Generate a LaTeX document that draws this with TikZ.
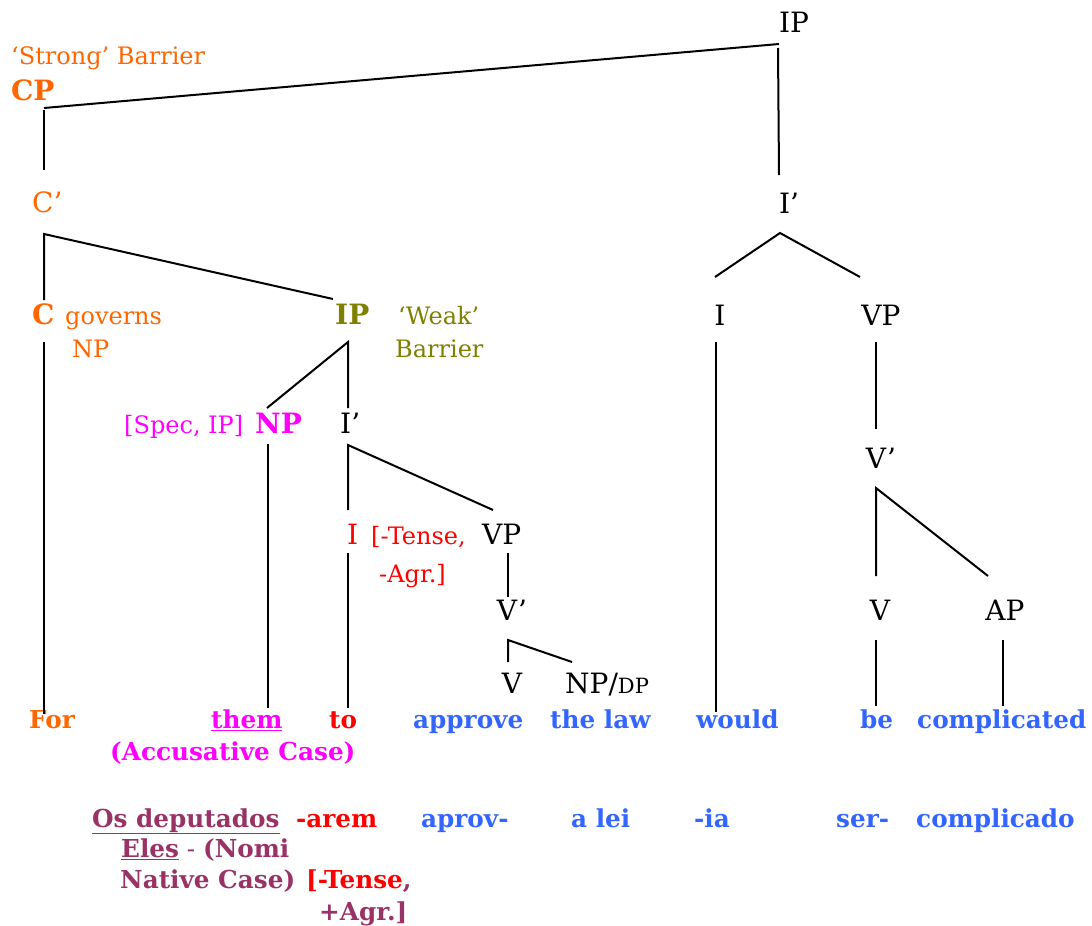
\documentclass[tikz,border=0pt]{standalone}
\usepackage{fontspec}
\setmainfont{DejaVu Serif}
\definecolor{corange}{HTML}{FF6600}
\definecolor{colive}{HTML}{808000}
\definecolor{cmag}{HTML}{FF00FF}
\definecolor{cred}{HTML}{FF0000}
\definecolor{cblue}{HTML}{3366FF}
\definecolor{cplum}{HTML}{993366}
\newcommand\fL{\fontsize{28}{33}\selectfont}
\newcommand\fS{\fontsize{24}{29}\selectfont}
\newcommand\fD{\fontsize{21}{25}\selectfont}
\newcommand\fB{\fontsize{24.7}{29}\selectfont\bfseries}
\begin{document}
\begin{tikzpicture}[x=1pt,y=-1pt,
  lab/.style={inner sep=0pt,anchor=base,font=\fL},
  labw/.style={inner sep=0pt,anchor=base west,font=\fL},
  ann/.style={inner sep=0pt,anchor=base west,font=\fS},
  wrd/.style={inner sep=0pt,anchor=base west,font=\fB},
  edge/.style={draw=black,line width=2pt}]
\path[use as bounding box,fill=white] (0,0) rectangle (1092,926);

% ---- labels ----
\node[lab] (ipTop) at (794,32) {IP};
\node[ann,text=corange] (strong) at (11,64) {‘Strong’ Barrier};
\node[labw,text=corange,font=\fL\bfseries] (cp) at (11,100) {CP};
\node[labw,text=corange] (cbar) at (32,212) {C’};
\node[labw,text=corange,font=\fL\bfseries] (c) at (32,324) {C};
\node[ann,text=corange] (gov) at (65,324) {governs};
\node[ann,text=corange] (govnp) at (72,357) {NP};
\node[labw,text=colive,font=\fL\bfseries] (ipw) at (335,324) {IP};
\node[ann,text=colive] (weak) at (398,324) {‘Weak’};
\node[ann,text=colive] (weak2) at (395,357) {Barrier};
\node[ann,text=cmag] (spec) at (124,433) {[Spec, IP]};
\node[labw,text=cmag,font=\fL\bfseries] (np) at (255,433) {NP};
\node[labw] (ibarL) at (340,433) {I’};
\node[labw,text=cred] (iL) at (347,544) {I};
\node[ann,text=cred] (tense) at (371,544) {[-Tense,};
\node[labw] (vpL) at (482,544) {VP};
\node[ann,text=cred] (agr) at (379,582) {-Agr.]};
\node[lab] (vbarL) at (512,620) {V’};
\node[lab] (vL) at (512,693) {V};
\node[labw] (npdp) at (565,693) {NP/{\fD DP}};
\node[lab] (ibarR) at (789,213) {I’};
\node[lab] (iR) at (720,325) {I};
\node[lab] (vpR) at (881,325) {VP};
\node[lab] (vbarR) at (881,468) {V’};
\node[lab] (vR) at (880,620) {V};
\node[lab] (apR) at (1005,620) {AP};

% ---- words ----
\node[wrd,text=corange] (for) at (29,728) {For};
\node[wrd,text=cmag] (them) at (211,728) {\underline{them}};
\node[wrd,text=cred] (to) at (329,728) {to};
\node[wrd,text=cblue] (approve) at (413,728) {approve};
\node[wrd,text=cblue] (thelaw) at (550,728) {the law};
\node[wrd,text=cblue] (would) at (696,728) {would};
\node[wrd,text=cblue] (be) at (860,728) {be};
\node[wrd,text=cblue] (compl) at (917,728) {complicated};
\node[wrd,text=cmag] (acc) at (110,760) {(Accusative Case)};

\node[wrd,text=cplum] (os) at (92,827) {\underline{Os deputados}};
\node[wrd,text=cred] (arem) at (296,827) {-arem};
\node[wrd,text=cblue] (aprov) at (421,827) {aprov-};
\node[wrd,text=cblue] (alei) at (571,827) {a lei};
\node[wrd,text=cblue] (ia) at (694,827) {-ia};
\node[wrd,text=cblue] (ser) at (836,827) {ser-};
\node[wrd,text=cblue] (compd) at (916,827) {complicado};
\node[wrd,text=cplum] (eles) at (121,857) {\underline{Eles}\mdseries{} - \bfseries(Nomi};
\node[wrd,text=cplum] (nat) at (120,888) {Native Case)};
\node[wrd,text=cred] (tense2) at (306,888) {[-Tense\textcolor{cplum}{,}};
\node[wrd,text=cplum] (agr2) at (319,920) {+Agr.]};

% ---- line end points ----
\coordinate (a1) at (44,108);   \coordinate (a2) at (779,44);
\coordinate (b1) at (778,48);   \coordinate (b2) at (779,175);
\coordinate (c1) at (44,110);   \coordinate (c2) at (44,170);
\coordinate (d0) at (44,234);   \coordinate (d1) at (44,300);  \coordinate (d2) at (333,299);
\coordinate (e1) at (44,342);   \coordinate (e2) at (44,714);
\coordinate (f0) at (348,342);  \coordinate (f1) at (267,408); \coordinate (f2) at (348,408);
\coordinate (g1) at (268,444);  \coordinate (g2) at (268,708);
\coordinate (h0) at (348,445);  \coordinate (h1) at (348,510); \coordinate (h2) at (493,510);
\coordinate (i1) at (348,553);  \coordinate (i2) at (348,708);
\coordinate (j1) at (508,553);  \coordinate (j2) at (508,597);
\coordinate (k0) at (508,640);  \coordinate (k1) at (508,662); \coordinate (k2) at (572,662);
\coordinate (l0) at (780,233);  \coordinate (l1) at (715,277); \coordinate (l2) at (860,277);
\coordinate (m1) at (716,342);  \coordinate (m2) at (716,712);
\coordinate (n1) at (876,342);  \coordinate (n2) at (876,429);
\coordinate (o0) at (876,488);  \coordinate (o1) at (876,576); \coordinate (o2) at (988,576);
\coordinate (p1) at (876,640);  \coordinate (p2) at (876,706);
\coordinate (q1) at (1003,640); \coordinate (q2) at (1003,706);

\draw[edge] (a1) -- (a2);
\draw[edge] (b1) -- (b2);
\draw[edge] (c1) -- (c2);
\draw[edge] (d1) -- (d0) -- (d2);
\draw[edge] (e1) -- (e2);
\draw[edge] (f1) -- (f0) -- (f2);
\draw[edge] (g1) -- (g2);
\draw[edge] (h1) -- (h0) -- (h2);
\draw[edge] (i1) -- (i2);
\draw[edge] (j1) -- (j2);
\draw[edge] (k1) -- (k0) -- (k2);
\draw[edge] (l1) -- (l0) -- (l2);
\draw[edge] (m1) -- (m2);
\draw[edge] (n1) -- (n2);
\draw[edge] (o1) -- (o0) -- (o2);
\draw[edge] (p1) -- (p2);
\draw[edge] (q1) -- (q2);
\end{tikzpicture}
\end{document}
